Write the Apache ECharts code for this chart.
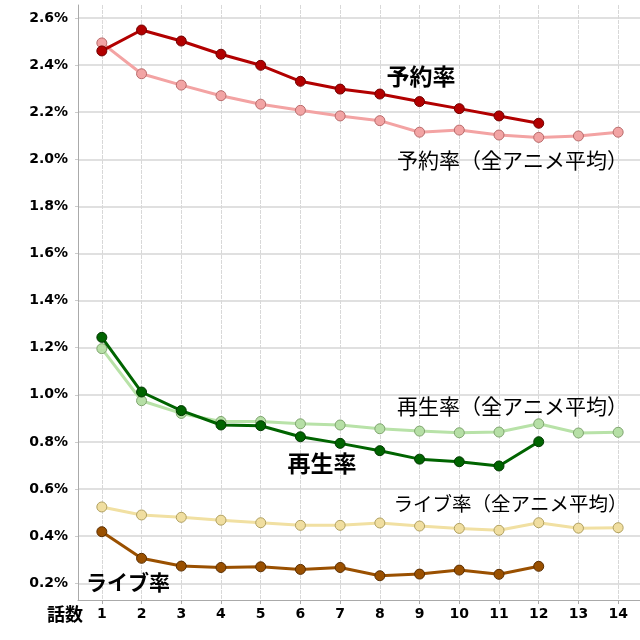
<!DOCTYPE html>
<html>
<head>
<meta charset="utf-8">
<script src="https://cdn.jsdelivr.net/npm/echarts@6/dist/echarts.min.js"></script>
<style>html,body{margin:0;padding:0;background:#fff}#c{width:640px;height:640px}</style>
</head>
<body>
<div id="c"></div>
<script>
const episodes = [1,2,3,4,5,6,7,8,9,10,11,12,13,14];
const yTicks = [0.2,0.4,0.6,0.8,1.0,1.2,1.4,1.6,1.8,2.0,2.2,2.4,2.6];

const yoyaku    = [2.460,2.549,2.502,2.446,2.399,2.331,2.298,2.277,2.245,2.215,2.184,2.153];
const yoyakuAvg = [2.494,2.363,2.315,2.270,2.234,2.208,2.184,2.164,2.115,2.124,2.103,2.093,2.099,2.115];
const saisei    = [1.244,1.012,0.933,0.872,0.869,0.822,0.794,0.763,0.727,0.716,0.698,0.801];
const saiseiAvg = [1.196,0.975,0.921,0.887,0.887,0.877,0.872,0.856,0.846,0.839,0.842,0.877,0.838,0.841];
const liveAvg   = [0.524,0.490,0.480,0.468,0.457,0.446,0.446,0.456,0.443,0.433,0.425,0.457,0.434,0.436];
const live      = [0.419,0.306,0.273,0.267,0.270,0.259,0.267,0.232,0.239,0.256,0.238,0.272];

function pairs(arr){ return arr.map((v,i)=>[episodes[i], v]); }

function mk(name, data, line, fill, border, z){
  return {
    name, type:'line', data:pairs(data), z,
    symbol:'circle', symbolSize:10,
    lineStyle:{color:line, width:3},
    itemStyle:{color:fill, borderColor:border, borderWidth:1},
    emphasis:{disabled:true}, animation:false
  };
}

const chart = echarts.init(document.getElementById('c'), null, {renderer:'canvas'});
const boldFont = '"DejaVu Sans", "Noto Sans CJK JP", sans-serif';
const jp = '"Noto Sans CJK JP", sans-serif';
chart.setOption({
  animation:false,
  grid:{left:78, right:0, top:5, bottom:40, containLabel:false},
  xAxis:{
    type:'value', min:0.4, max:14.55,
    axisLine:{show:true, lineStyle:{color:'#aaaaaa', width:1}},
    axisTick:{show:true, length:4, lineStyle:{color:'#aaaaaa'}, customValues:episodes},
    axisLabel:{customValues:episodes, color:'#000', fontFamily:boldFont, fontWeight:'bold', fontSize:14, margin:7},
    splitLine:{show:true, lineStyle:{color:'#d8d8d8', width:1, type:[4,1]}}
  },
  yAxis:{
    type:'value', min:0.129, max:2.655,
    axisLine:{show:true, lineStyle:{color:'#aaaaaa', width:1}},
    axisTick:{show:true, length:3, lineStyle:{color:'#cccccc'}, customValues:yTicks},
    axisLabel:{customValues:yTicks, color:'#000', fontFamily:boldFont, fontWeight:'bold', fontSize:14, margin:10,
      formatter:v=>v.toFixed(1)+'%'},
    splitLine:{show:true, lineStyle:{color:'#e0e0e0', width:2}}
  },
  series:[
    mk('予約率（全アニメ平均）', yoyakuAvg, '#f3a3a3', '#f2a4a4', '#b86a6a', 2),
    mk('予約率', yoyaku, '#b20000', '#b20000', '#700000', 3),
    mk('再生率（全アニメ平均）', saiseiAvg, '#b8e2a8', '#b6dfa6', '#7fa46f', 2),
    mk('再生率', saisei, '#006400', '#006400', '#003800', 3),
    mk('ライブ率（全アニメ平均）', liveAvg, '#f1e0a2', '#f0dea0', '#b0a060', 2),
    mk('ライブ率', live, '#9a5000', '#9a5000', '#5a2e00', 3)
  ],
  graphic:[
    {type:'text', z:100, left:47, top:605, style:{text:'話数', font:'bold 18px '+jp, fill:'#000'}},
    {type:'text', z:100, x:421, y:76, style:{text:'予約率', font:'bold 23px '+jp, fill:'#000', align:'center', verticalAlign:'middle'}},
    {type:'text', z:100, x:628, y:160, style:{text:'予約率（全アニメ平均）', font:'21px '+jp, fill:'#000', align:'right', verticalAlign:'middle'}},
    {type:'text', z:100, x:628, y:406, style:{text:'再生率（全アニメ平均）', font:'21px '+jp, fill:'#000', align:'right', verticalAlign:'middle'}},
    {type:'text', z:100, x:322, y:463, style:{text:'再生率', font:'bold 23px '+jp, fill:'#000', align:'center', verticalAlign:'middle'}},
    {type:'text', z:100, x:627.5, y:504, style:{text:'ライブ率（全アニメ平均）', font:'19.5px '+jp, fill:'#000', align:'right', verticalAlign:'middle'}},
    {type:'text', z:100, x:86, y:582, style:{text:'ライブ率', font:'bold 21px '+jp, fill:'#000', align:'left', verticalAlign:'middle'}}
  ]
});
</script>
</body>
</html>
